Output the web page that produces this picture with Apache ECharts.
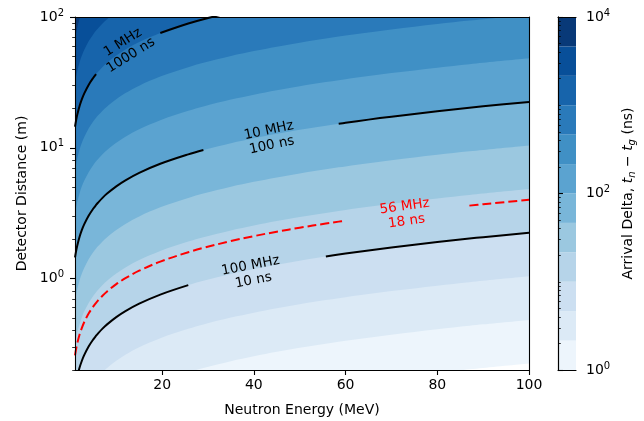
<!DOCTYPE html>
<html>
<head>
<meta charset="utf-8">
<script src="https://cdn.jsdelivr.net/npm/echarts@6/dist/echarts.min.js"></script>
<style>
html, body { margin: 0; padding: 0; background: #fff; }
#chart { width: 644px; height: 421px; }
</style>
</head>
<body>
<div id="chart"></div>
<script>
// neutron energy (MeV) and the arrival delta per metre of flight path (ns/m)
var energies = [1, 1.25, 1.5, 2, 2.5, 3, 4, 5, 5.6, 6, 7, 8, 10, 12, 15, 19.6, 25.7, 29, 35, 40, 45,
    50, 55.7, 58.5, 60, 65, 70, 80, 87, 90, 100];
var nsPerMeter = [69.02, 61.40, 55.77, 47.87, 42.48, 38.51, 32.93, 29.13, 27.35, 26.32, 24.14, 22.39, 19.71,
    17.73, 15.55, 13.25, 11.22, 10.40, 9.224, 8.458, 7.825, 7.293, 6.777, 6.553, 6.439, 6.091,
    5.781, 5.255, 4.944, 4.822, 4.459];

// filled contour levels (ns) and their colours
var bandLevels = [1, 2.154, 4.642, 10, 21.54, 46.42, 100, 215.4, 464.2, 1000, 2154, 4642, 10000];
var bandColors = ['#edf5fc', '#dceaf6', '#ccdff1', '#b6d4e9', '#9bc8e0', '#79b6d9',
    '#5ba3d0', '#4090c5', '#2a7aba', '#1764ab', '#084f99', '#083978'];

// line contours (ns)
var lineLevels = [1000, 100, 17.86, 10];
var lineColors = ['#000000', '#000000', '#ff0000', '#000000'];
var lineDash = ['solid', 'solid', [9, 4], 'solid'];
var lineGaps = [[5.6, 19.6], [29, 58.5], [60, 87], [25.7, 55.7]];   // where the labels sit
var lineLabelText = ['1 MHz\n1000 ns', '10 MHz\n100 ns', '56 MHz\n18 ns', '100 MHz\n10 ns'];
var lineLabelE = [12.3, 43.6, 73.1, 39.6];
var lineLabelD = [57, 11.9, 3.12, 1.1];
var lineLabelRotate = [32, 12, 8, 11];

var xTicks = [20, 40, 60, 80, 100];
var yMajor = [1, 10, 100];
var yMinor = [0.2, 0.3, 0.4, 0.5, 0.6, 0.7, 0.8, 0.9, 2, 3, 4, 5, 6, 7, 8, 9, 20, 30, 40, 50, 60, 70, 80, 90];
var cbMajor = [1, 100, 10000];
var cbMinor = [2, 3, 4, 5, 6, 7, 8, 9, 10, 20, 30, 40, 50, 60, 70, 80, 90, 200, 300, 400, 500, 600, 700, 800, 900,
    1000, 2000, 3000, 4000, 5000, 6000, 7000, 8000, 9000];

var font = 'DejaVu Sans';
var myChart = echarts.init(document.getElementById('chart'), null, {renderer: 'canvas'});

function powLabel(v) {
    return '{b|10}{sup|' + Math.round(Math.log10(v)) + '}';
}
var powRich = {
    b: {fontSize: 14, fontFamily: font, color: '#000', lineHeight: 18},
    sup: {fontSize: 10, fontFamily: font, color: '#000', lineHeight: 11, verticalAlign: 'top'}
};
function contour(level) {
    return energies.map(function (e, i) { return [e, level / nsPerMeter[i]]; });
}
// same contour, broken where its inline label sits
function contourWithGap(level, gap) {
    var out = [];
    energies.forEach(function (e, i) {
        if (e > gap[0] && e < gap[1]) return;
        out.push([e, level / nsPerMeter[i]]);
        if (e === gap[0]) out.push([e, '-']);
    });
    return out;
}
function lineOnly(extra) {
    var ax = {
        axisLine: {show: true, lineStyle: {color: '#000', width: 1.1}},
        axisTick: {show: false}, axisLabel: {show: false}, splitLine: {show: false}, z: 10
    };
    for (var k in extra) ax[k] = extra[k];
    return ax;
}

var series = [];
// filled bands: each fills from its lower boundary up to the top
for (var k = 0; k < bandColors.length; k++) {
    series.push({
        type: 'line', xAxisIndex: 0, yAxisIndex: 0, smooth: 0.35,
        symbol: 'none', silent: true, z: 2,
        lineStyle: {width: 0, color: bandColors[k]},
        areaStyle: {color: bandColors[k], opacity: 1, origin: 'end'},
        data: contour(bandLevels[k])
    });
}
// labelled contour lines
for (var i = 0; i < lineLevels.length; i++) {
    series.push({
        type: 'line', xAxisIndex: 0, yAxisIndex: 0, smooth: 0.35, connectNulls: false,
        symbol: 'none', silent: true, z: 3,
        lineStyle: {width: 2, color: lineColors[i], type: lineDash[i]},
        data: contourWithGap(lineLevels[i], lineGaps[i])
    });
}
series.push({
    type: 'scatter', xAxisIndex: 0, yAxisIndex: 0, symbolSize: 0, silent: true, z: 4,
    itemStyle: {opacity: 1},
    data: lineLabelE.map(function (e, i) {
        return {
            value: [e, lineLabelD[i]],
            label: {
                show: true, position: 'inside', formatter: lineLabelText[i], rotate: lineLabelRotate[i],
                color: lineColors[i], opacity: 1, fontSize: 13.5, fontFamily: font, lineHeight: 15,
                align: 'center', verticalAlign: 'middle'
            }
        };
    })
});
// colour bar
series.push({
    type: 'custom', xAxisIndex: 2, yAxisIndex: 3, silent: true, z: 2,
    encode: {x: 0, y: [1, 2]},
    data: bandColors.map(function (c, k) { return [0, bandLevels[k], bandLevels[k + 1], k]; }),
    renderItem: function (params, api) {
        var p0 = api.coord([0, api.value(1)]);
        var p1 = api.coord([1, api.value(2)]);
        return {
            type: 'rect',
            shape: {x: p0[0], y: p1[1], width: p1[0] - p0[0], height: p0[1] - p1[1]},
            style: {fill: bandColors[api.value(3)]}
        };
    }
});

var option = {
    backgroundColor: '#fff',
    animation: false,
    textStyle: {fontFamily: font},
    grid: [
        {left: 75, top: 17, width: 454, height: 353, containLabel: false, outerBoundsMode: 'none'},
        {left: 558, top: 17, width: 18, height: 353, containLabel: false, outerBoundsMode: 'none'}
    ],
    xAxis: [
        {
            gridIndex: 0, type: 'value', min: 1, max: 100, position: 'bottom', z: 10,
            axisLine: {show: true, lineStyle: {color: '#000', width: 1.1}},
            axisTick: {show: true, length: 5, customValues: xTicks, lineStyle: {color: '#000', width: 1.1}},
            axisLabel: {show: true, customValues: xTicks, color: '#000', fontSize: 14, fontFamily: font, margin: 8},
            splitLine: {show: false},
            name: 'Neutron Energy (MeV)', nameLocation: 'middle', nameGap: 33,
            nameTextStyle: {color: '#000', fontSize: 14, fontFamily: font}
        },
        lineOnly({gridIndex: 0, type: 'value', min: 1, max: 100, position: 'top'}),
        lineOnly({gridIndex: 1, type: 'value', min: 0, max: 1, position: 'bottom'}),
        lineOnly({gridIndex: 1, type: 'value', min: 0, max: 1, position: 'top'})
    ],
    yAxis: [
        {
            gridIndex: 0, type: 'log', logBase: 10, min: 0.2, max: 100, position: 'left', z: 10,
            axisLine: {show: true, lineStyle: {color: '#000', width: 1.1}},
            axisTick: {show: true, length: 5, customValues: yMajor, lineStyle: {color: '#000', width: 1.1}},
            axisLabel: {show: true, customValues: yMajor, formatter: powLabel, rich: powRich, margin: 11},
            splitLine: {show: false},
            name: 'Detector Distance (m)', nameLocation: 'middle', nameGap: 44, nameRotate: 90,
            nameTextStyle: {color: '#000', fontSize: 14, fontFamily: font}
        },
        {
            gridIndex: 0, type: 'log', logBase: 10, min: 0.2, max: 100, position: 'left', z: 10,
            axisLine: {show: false},
            axisTick: {show: true, length: 2.8, customValues: yMinor, lineStyle: {color: '#000', width: 0.8}},
            axisLabel: {show: false}, splitLine: {show: false}
        },
        lineOnly({gridIndex: 0, type: 'log', logBase: 10, min: 0.2, max: 100, position: 'right'}),
        {
            gridIndex: 1, type: 'log', logBase: 10, min: 1, max: 10000, position: 'right', z: 10,
            axisLine: {show: true, lineStyle: {color: '#000', width: 1.1}},
            axisTick: {show: true, length: 5, customValues: cbMajor, lineStyle: {color: '#000', width: 1.1}},
            axisLabel: {show: true, customValues: cbMajor, formatter: powLabel, rich: powRich, margin: 10},
            splitLine: {show: false},
            name: 'Arrival Delta, {i|t}{sub|n} \u2212 {i|t}{sub|g} (ns)',
            nameLocation: 'middle', nameGap: 43, nameRotate: 90,
            nameTextStyle: {
                color: '#000', fontSize: 14, fontFamily: font, lineHeight: 18,
                rich: {
                    i: {fontSize: 14, fontFamily: font, fontStyle: 'italic', color: '#000', lineHeight: 18},
                    sub: {fontSize: 10, fontFamily: font, fontStyle: 'italic', color: '#000', lineHeight: 10, verticalAlign: 'bottom'}
                }
            }
        },
        {
            gridIndex: 1, type: 'log', logBase: 10, min: 1, max: 10000, position: 'right', z: 10,
            axisLine: {show: false},
            axisTick: {show: true, length: 2.8, customValues: cbMinor, lineStyle: {color: '#000', width: 0.8}},
            axisLabel: {show: false}, splitLine: {show: false}
        },
        lineOnly({gridIndex: 1, type: 'log', logBase: 10, min: 1, max: 10000, position: 'left'})
    ],
    series: series
};

myChart.setOption(option);
</script>
</body>
</html>
